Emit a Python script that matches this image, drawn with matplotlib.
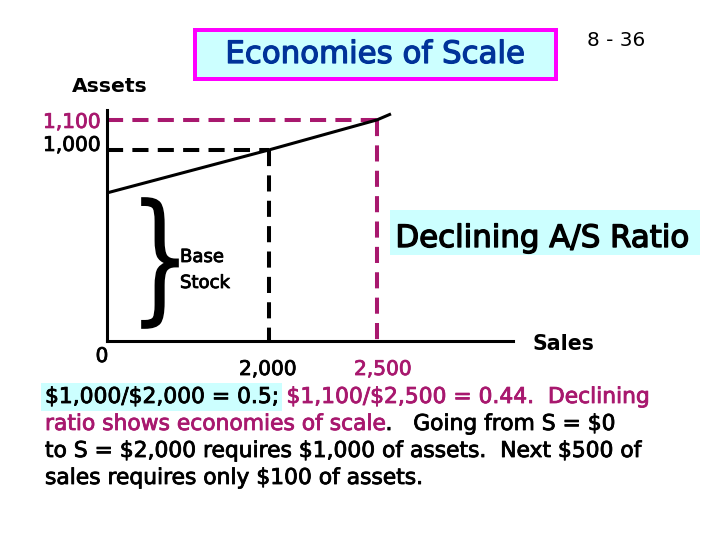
"""Economies of scale slide: assets vs sales with a base stock intercept."""
import numpy as np
import matplotlib
matplotlib.use("Agg")
import matplotlib.pyplot as plt
from matplotlib import patheffects
from matplotlib.patches import Rectangle, PathPatch
from matplotlib.path import Path
from matplotlib.textpath import TextPath
from matplotlib.font_manager import FontProperties

# ── data ──────────────────────────────────────────────────────────────── #
SALES_TICKS = [0, 2000, 2500]
SALES_TICK_LABELS = ["0", "2,000", "2,500"]
ASSET_TICKS = [1000, 1100]
ASSET_TICK_LABELS = ["1,000", "1,100"]

LINE_SALES = [0, 2000, 2500, 2565]
LINE_ASSETS = [775, 1000, 1100, 1120]
BASE_STOCK = 775

SALES_MAX = 3130
ASSETS_MAX = 1133

TITLE = "Economies of Scale"
SLIDE_NO = "8 - 36"
RATIO_NOTE = "Declining A/S Ratio"
BOTTOM_LINES = [
    [("$1,000/$2,000 = 0.5;", "k"), ("$1,100/$2,500 = 0.44.  Declining", "m")],
    [("ratio shows economies of scale", "m"), (".   Going from S = $0", "k")],
    [("to S = $2,000 requires $1,000 of assets.  Next $500 of", "k")],
    [("sales requires only $100 of assets.", "k")],
]

MAGENTA = "#a8186e"
CYAN = "#ccffff"
PX = 0.72          # points per pixel at dpi=100


def heavy(color, w=0.6):
    # slide text is rendered a bit heavier than DejaVu regular
    return [patheffects.withStroke(linewidth=w, foreground=color)]


def piecewise(vals, pos):
    # schematic (non-linear) spacing of the slide's axes
    fwd = lambda v: np.interp(v, vals, pos)
    inv = lambda p: np.interp(p, pos, vals)
    return fwd, inv


def draw_chart(fig):
    ax = fig.add_axes([107 / 720, 1 - 341 / 540, 406 / 720, 231 / 540])
    ax.set_xscale("function", functions=piecewise([0, 2000, 2500, 5000], [0, 162, 270, 810]))
    ax.set_yscale("function", functions=piecewise([0, 1000, 1100, 2000], [0, 191, 221, 491]))
    ax.set_xlim(0, SALES_MAX)
    ax.set_ylim(0, ASSETS_MAX)
    ax.patch.set_visible(False)
    for s in ["top", "right"]:
        ax.spines[s].set_visible(False)
    for s in ["left", "bottom"]:
        ax.spines[s].set_linewidth(2.2)
        ax.spines[s].set_color("black")
    ax.set_xticks([])
    ax.set_yticks([])

    # dashed guides
    dash = dict(lw=2.9, linestyle=(0, (4, 2.3)), dash_capstyle="butt", clip_on=False)
    ax.plot([0, SALES_TICKS[1]], [ASSET_TICKS[0]] * 2, color="black", **dash)
    ax.plot([SALES_TICKS[1]] * 2, [ASSET_TICKS[0], 0], color="black", **dash)
    ax.plot([0, SALES_TICKS[2]], [ASSET_TICKS[1]] * 2, color=MAGENTA, **dash)
    ax.plot([SALES_TICKS[2]] * 2, [ASSET_TICKS[1], 0], color=MAGENTA, **dash)

    ax.plot(LINE_SALES, LINE_ASSETS, color="black", lw=2.2, solid_capstyle="butt",
            clip_on=False, zorder=5)

    # tick labels
    x_off = [(-5, -21), (-1, -34), (6, -34)]
    x_col = ["black", "black", MAGENTA]
    for v, lbl, (dx, dy), c in zip(SALES_TICKS, SALES_TICK_LABELS, x_off, x_col):
        ax.annotate(lbl, xy=(v, 0), xytext=(dx * PX, dy * PX), textcoords="offset points",
                    ha="center", va="baseline", fontsize=14.5, color=c,
                    annotation_clip=False, path_effects=heavy(c))
    y_off = [-1, -8]
    y_col = ["black", MAGENTA]
    for v, lbl, dy, c in zip(ASSET_TICKS, ASSET_TICK_LABELS, y_off, y_col):
        ax.annotate(lbl, xy=(0, v), xytext=(-6 * PX, dy * PX), textcoords="offset points",
                    ha="right", va="baseline", fontsize=14.5, color=c,
                    annotation_clip=False, path_effects=heavy(c))

    ax.annotate("Sales", xy=(1, 0), xycoords="axes fraction", xytext=(20 * PX, -9 * PX),
                textcoords="offset points", ha="left", va="baseline",
                fontsize=14.8, fontweight="bold")
    ax.annotate("Assets", xy=(0, 1), xycoords="axes fraction", xytext=(-35 * PX, 18 * PX),
                textcoords="offset points", ha="left", va="baseline",
                fontsize=14.7, fontweight="bold")
    return ax


def draw_brace(ov, x0, y0, w, h):
    tp = TextPath((0, 0), "}", size=100, prop=FontProperties(family="DejaVu Serif"))
    ext = tp.get_extents()
    v = tp.vertices.copy()
    u = (v[:, 0] - ext.x0) / ext.width
    t = (v[:, 1] - ext.y0) / ext.height
    verts = np.column_stack([x0 + u * w, y0 + h - t * h])
    ov.add_patch(PathPatch(Path(verts, tp.codes), fc="black", ec="black", lw=1.2))


def draw_slide(fig):
    ov = fig.add_axes([0, 0, 1, 1], zorder=3)
    ov.set_xlim(0, 720)
    ov.set_ylim(540, 0)
    ov.axis("off")

    # ── title box ────────────────────────────────────────────────────── #
    ov.add_patch(Rectangle((195, 30), 361, 49, fc=CYAN, ec="#ff00ff", lw=4 * PX))
    ov.text(375.5, 63, TITLE, color="#003399", fontsize=22.2, ha="center", va="baseline",
            path_effects=heavy("#003399", 0.9))
    ov.text(587, 46, SLIDE_NO, fontsize=14.4, ha="left", va="baseline")

    # ── ratio note ───────────────────────────────────────────────────── #
    ov.add_patch(Rectangle((390, 210), 310, 45, fc=CYAN, ec="none"))
    ov.text(542.5, 247, RATIO_NOTE, fontsize=22.2, ha="center", va="baseline",
            path_effects=heavy("black", 1.0))

    # ── base stock brace ─────────────────────────────────────────────── #
    draw_brace(ov, 142, 198, 36, 130)
    ov.text(180, 262, "Base", fontsize=13, ha="left", va="baseline", path_effects=heavy("black"))
    ov.text(180, 288, "Stock", fontsize=13, ha="left", va="baseline", path_effects=heavy("black"))

    # ── explanation paragraph ────────────────────────────────────────── #
    colors = {"k": "black", "m": MAGENTA}
    for i, segs in enumerate(BOTTOM_LINES):
        y = 403 + 27 * i
        prev = None
        for txt, c in segs:
            col = colors[c]
            if prev is None:
                prev = ov.text(45, y, txt, fontsize=15.7, color=col, ha="left",
                               va="baseline", path_effects=heavy(col))
                if i == 0:
                    prev.set_bbox(dict(boxstyle="square,pad=0.18", fc=CYAN, ec="none"))
            else:
                gap = 8 * PX if txt[0] != "." else 0
                prev = ov.annotate(txt, xy=(1, 0), xycoords=prev, xytext=(gap, 0),
                                   textcoords="offset points", fontsize=15.7, color=col,
                                   ha="left", va="bottom", path_effects=heavy(col))
    return ov


def main():
    plt.rcParams["font.family"] = ["DejaVu Sans"]
    plt.rcParams["text.parse_math"] = False
    fig = plt.figure(figsize=(7.2, 5.4), dpi=100)
    draw_chart(fig)
    draw_slide(fig)
    fig.savefig("out.png", dpi=100)


if __name__ == "__main__":
    main()
